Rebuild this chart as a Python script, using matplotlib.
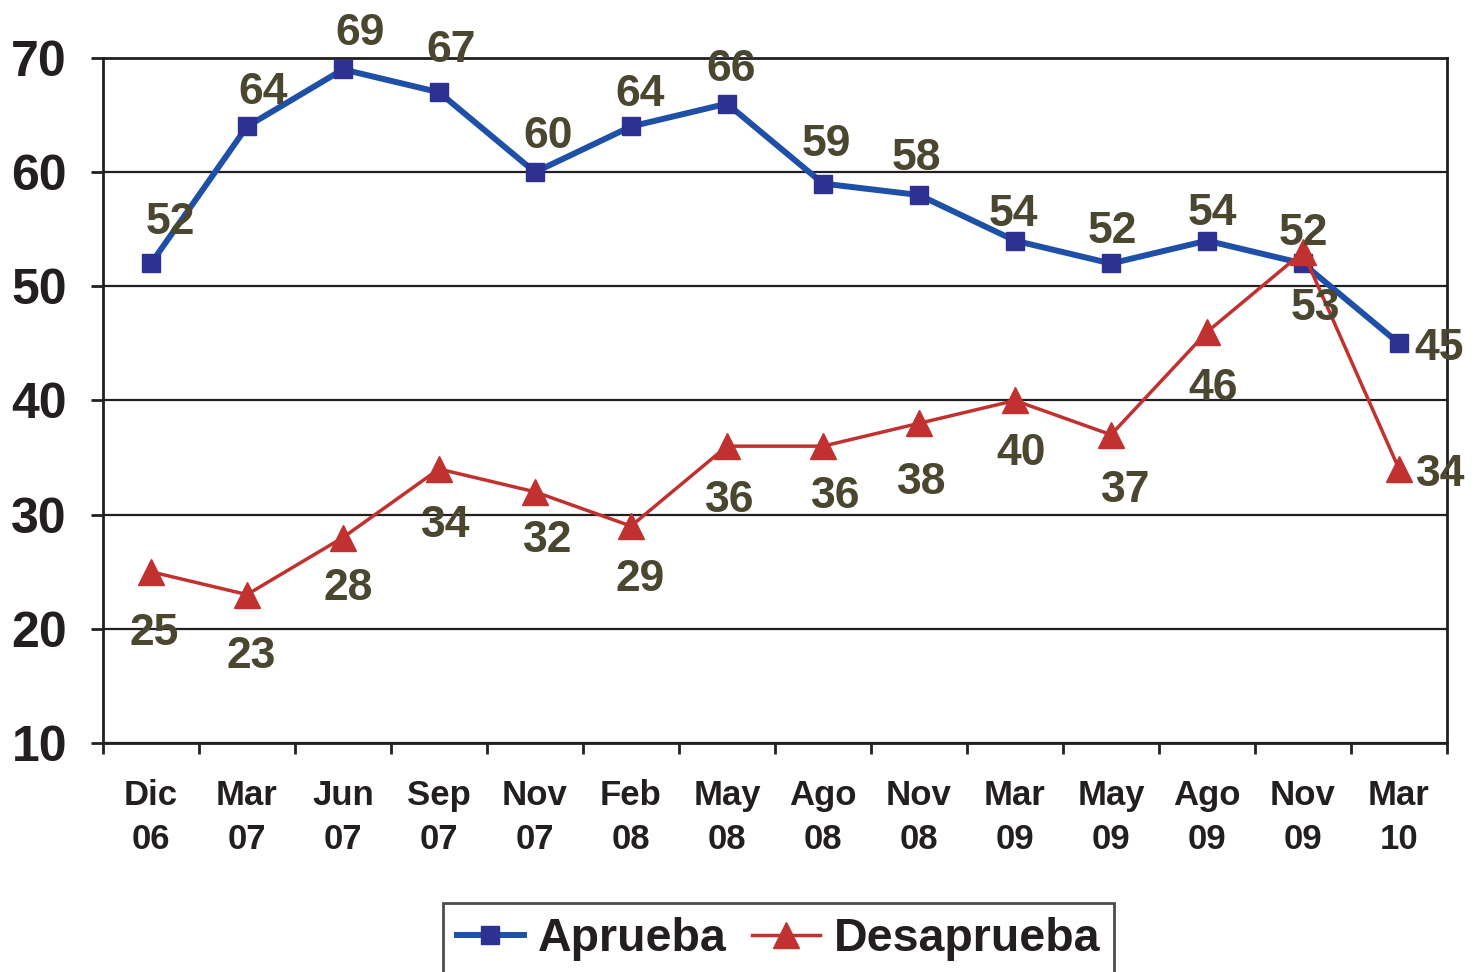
import numpy as np
import matplotlib.pyplot as plt

plt.rcParams['font.family'] = ['Liberation Sans', 'DejaVu Sans']
plt.rcParams['font.weight'] = 'bold'

meses = ['Dic\n06', 'Mar\n07', 'Jun\n07', 'Sep\n07', 'Nov\n07', 'Feb\n08', 'May\n08',
         'Ago\n08', 'Nov\n08', 'Mar\n09', 'May\n09', 'Ago\n09', 'Nov\n09', 'Mar\n10']
aprueba = [52, 64, 69, 67, 60, 64, 66, 59, 58, 54, 52, 54, 52, 45]
desaprueba = [25, 23, 28, 34, 32, 29, 36, 36, 38, 40, 37, 46, 53, 34]

# label offsets in pixels (dx, dy), positive dy = up
off_apr = [(19, 41), (16, 34), (17, 36), (12, 42), (13, 36), (9, 32), (4, 34),
           (3, 39), (-3, 37), (-2, 26), (1, 32), (5, 27), (0, 30), (40, -5)]
off_des = [(3, -62), (4, -62), (5, -51), (7, -56), (13, -49), (9, -53), (3, -54),
           (13, -50), (3, -59), (6, -53), (15, -56), (6, -56), (12, -56), (42, -5)]

c_apr = '#1f50a8'
c_apr_mk = '#2e3192'
c_des = '#c0312f'
c_lbl = '#4a4630'
c_txt = '#231f20'

fig = plt.figure(figsize=(14.8, 9.72), dpi=100)
ax = fig.add_axes([103/1480, 1-743/972, 1344/1480, 685/972])

x = np.arange(len(meses))
ax.plot(x, aprueba, color=c_apr, lw=4.3, marker='s', ms=13,
        mfc=c_apr_mk, mec=c_apr_mk, label='Aprueba', zorder=3)
ax.plot(x, desaprueba, color=c_des, lw=2.5, marker='^', ms=19,
        mfc=c_des, mec=c_des, label='Desaprueba', zorder=4)

for i in range(len(x)):
    ax.annotate(str(aprueba[i]), (x[i], aprueba[i]), xytext=off_apr[i],
                textcoords='offset pixels', ha='center', va='center',
                fontsize=32, fontweight='bold', color=c_lbl, zorder=5)
    ax.annotate(str(desaprueba[i]), (x[i], desaprueba[i]), xytext=off_des[i],
                textcoords='offset pixels', ha='center', va='center',
                fontsize=32, fontweight='bold', color=c_lbl, zorder=5)

ax.set_xlim(-0.5, len(meses) - 0.5)
ax.set_ylim(10, 70)
ax.set_yticks(range(10, 71, 10))
ax.set_xticks(x)
ax.set_xticklabels(meses, fontsize=25, fontweight='bold', color=c_txt, linespacing=1.4)
ax.set_xticks(np.arange(-0.5, len(meses), 1), minor=True)
ax.tick_params(axis='x', which='major', length=0, pad=26)
ax.tick_params(axis='x', which='minor', length=8, width=2, color=c_txt)
ax.tick_params(axis='y', length=9, width=2, color=c_txt, pad=17,
               labelsize=36, labelcolor=c_txt)
for t in ax.get_yticklabels():
    t.set_fontweight('bold')

ax.grid(axis='y', color=c_txt, lw=1.6)
ax.set_axisbelow(True)
for s in ax.spines.values():
    s.set_linewidth(2)
    s.set_color(c_txt)

leg = ax.legend(loc='upper center', bbox_to_anchor=(778.5/1480, 1-903/972), bbox_transform=fig.transFigure,
                ncol=2, frameon=True, fancybox=False, fontsize=33.5, handlelength=1.45,
                columnspacing=0.55, handletextpad=0.3, borderpad=0.3, borderaxespad=0)
leg.get_frame().set_edgecolor(c_txt)
leg.get_frame().set_linewidth(2)
for t in leg.get_texts():
    t.set_color(c_txt)
    t.set_fontweight('bold')

fig.savefig('out.png', dpi=100)
